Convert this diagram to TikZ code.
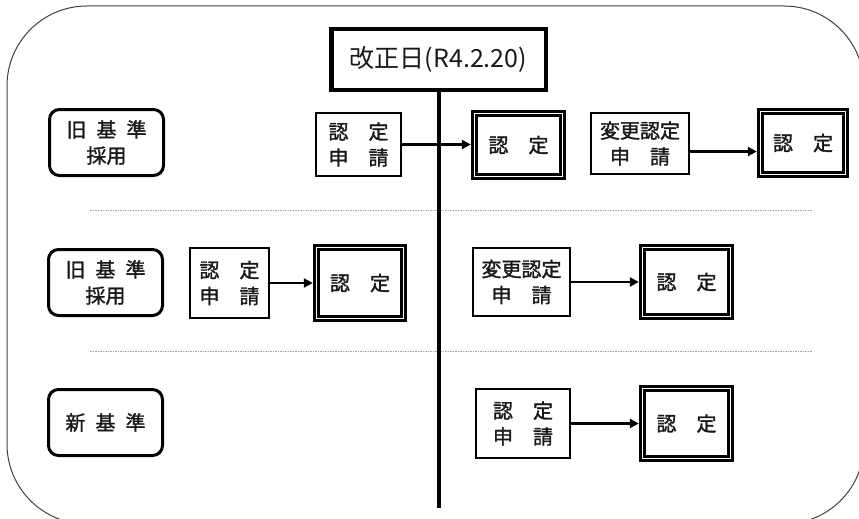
\documentclass[tikz,border=0pt]{standalone}
\usepackage{fontspec}
\newfontfamily\jp[FakeBold=1.5]{Noto Sans CJK JP}
\newfontfamily\jphead{Noto Sans CJK JP}
\usetikzlibrary{arrows.meta,calc}
\begin{document}
\begin{tikzpicture}[x=1pt,y=-1pt,
 every node/.style={font=\jp\fontsize{20}{26}\selectfont, text=black!90, align=center, inner sep=0pt},
 lbl/.style={draw, line width=3pt, rounded corners=10pt, minimum width=114pt, minimum height=66pt},
 sbox/.style={draw, line width=2.3pt},
 dbox/.style={draw, double, line width=2.4pt, double distance=1.8pt},
 hbox/.style={draw, line width=4.5pt, font=\jphead\fontsize{25}{29}\selectfont},
 arr/.style={line width=2.5pt, -{Triangle[length=9pt,width=9pt]}, shorten >=2.5pt},
 sep/.style={gray!70, line width=0.8pt, dash pattern=on 1.5pt off 1pt},
 frame/.style={draw=black!75, line width=1pt, rounded corners=80pt}]
\useasboundingbox (0,0) rectangle (859,519);
\begin{scope}
\clip (0,0) rectangle (859,519);
\draw[frame] (7,6) rectangle (864,524);
\end{scope}

% separators
\coordinate (s1a) at (90,210); \coordinate (s1b) at (812,210);
\coordinate (s2a) at (90,351); \coordinate (s2b) at (812,351);
\draw[sep] (s1a) -- (s1b);
\draw[sep] (s2a) -- (s2b);

% header and time line
\node[hbox, minimum width=214.5pt, minimum height=60.5pt] (hdr) at (438.5,59.5) {改正日(R4.2.20)};
\coordinate (vend) at (438,508);
\draw[line width=4pt] (hdr.south) -- (hdr.south |- vend);

% row labels
\node[lbl] (L1) at (106.5,142.5) {旧\hspace{0.5em}基\hspace{0.5em}準\\採用};
\node[lbl] (L2) at (105.5,282.5) {旧\hspace{0.5em}基\hspace{0.5em}準\\採用};
\node[lbl] (L3) at (105.5,422.5) {新\hspace{0.5em}基\hspace{0.5em}準};

% row 1
\node[sbox, minimum width=85pt, minimum height=63pt] (A1) at (358.5,144.5) {認　定\\申　請};
\node[dbox, minimum width=88pt, minimum height=63pt] (D1) at (518.5,145) {認　定};
\node[sbox, minimum width=98pt, minimum height=61pt] (B1) at (640,143.5) {変更認定\\申　請};
\node[dbox, minimum width=85pt, minimum height=63pt] (E1) at (803,143) {認　定};
\draw[arr] (A1.east) -- (A1.east -| D1.west);
\path ([yshift=-8pt]B1.east) coordinate (b1o);
\draw[arr] (b1o) -- (b1o -| E1.west);

% row 2
\node[sbox, minimum width=79pt, minimum height=70pt] (A2) at (229.5,283) {認　定\\申　請};
\node[dbox, minimum width=87pt, minimum height=71pt] (D2) at (360,283) {認　定};
\node[sbox, minimum width=97pt, minimum height=68pt] (B2) at (521.5,282) {変更認定\\申　請};
\node[dbox, minimum width=88pt, minimum height=69pt] (E2) at (686.5,282) {認　定};
\draw[arr] (A2.east) -- (A2.east -| D2.west);
\draw[arr] (B2.east) -- (B2.east -| E2.west);

% row 3
\node[sbox, minimum width=94pt, minimum height=69pt] (A3) at (523,423.5) {認　定\\申　請};
\node[dbox, minimum width=88pt, minimum height=70pt] (D3) at (686.5,423.5) {認　定};
\draw[arr] (A3.east) -- (A3.east -| D3.west);
\end{tikzpicture}
\end{document}
